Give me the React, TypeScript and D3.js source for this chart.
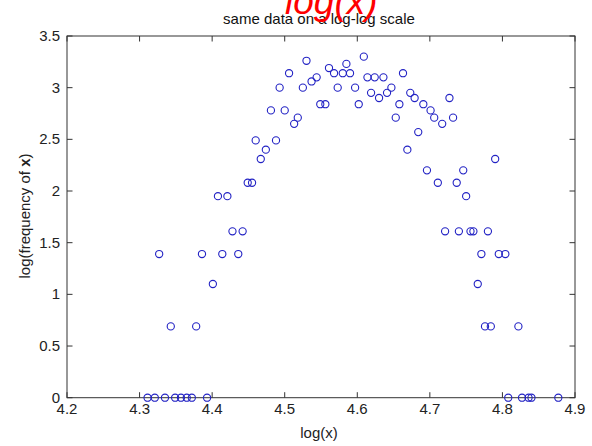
import React from "react";
import * as d3 from "d3";

const logX: number[] = [
  4.311, 4.321, 4.335, 4.349, 4.357, 4.365, 4.372, 4.393, 4.808, 4.827, 4.836, 4.840, 4.877,
  4.343, 4.378, 4.776, 4.784, 4.822,
  4.401, 4.766,
  4.327, 4.386, 4.414, 4.436, 4.771, 4.795, 4.804,
  4.428, 4.442, 4.721, 4.740, 4.756, 4.760, 4.780,
  4.408, 4.421, 4.750,
  4.449, 4.455, 4.711, 4.737,
  4.696, 4.746,
  4.467, 4.790,
  4.474, 4.669,
  4.460, 4.488,
  4.684,
  4.513, 4.717,
  4.518, 4.653, 4.706, 4.732,
  4.481, 4.500, 4.701,
  4.549, 4.556, 4.602, 4.658, 4.691,
  4.630, 4.679, 4.727,
  4.619, 4.641, 4.673,
  4.493, 4.525, 4.573, 4.597, 4.647,
  4.537,
  4.544, 4.614, 4.624, 4.636,
  4.506, 4.568, 4.580, 4.590, 4.663,
  4.561,
  4.585,
  4.530,
  4.609,
];

const logFreq: number[] = [
  0, 0, 0, 0, 0, 0, 0, 0, 0, 0, 0, 0, 0,
  0.69, 0.69, 0.69, 0.69, 0.69,
  1.10, 1.10,
  1.39, 1.39, 1.39, 1.39, 1.39, 1.39, 1.39,
  1.61, 1.61, 1.61, 1.61, 1.61, 1.61, 1.61,
  1.95, 1.95, 1.95,
  2.08, 2.08, 2.08, 2.08,
  2.20, 2.20,
  2.31, 2.31,
  2.40, 2.40,
  2.49, 2.49,
  2.57,
  2.65, 2.65,
  2.71, 2.71, 2.71, 2.71,
  2.78, 2.78, 2.78,
  2.84, 2.84, 2.84, 2.84, 2.84,
  2.90, 2.90, 2.90,
  2.95, 2.95, 2.95,
  3.00, 3.00, 3.00, 3.00, 3.00,
  3.06,
  3.10, 3.10, 3.10, 3.10,
  3.14, 3.14, 3.14, 3.14, 3.14,
  3.19,
  3.23,
  3.26,
  3.30,
];

const xTicks: number[] = [4.2, 4.3, 4.4, 4.5, 4.6, 4.7, 4.8, 4.9];
const yTicks: number[] = [0, 0.5, 1, 1.5, 2, 2.5, 3, 3.5];

const titleText = "same data on a log-log scale";
const annotationText = "log(x)";
const xLabel = "log(x)";
const yLabelStart = "log(frequency of ";
const yLabelBold = "x";
const yLabelEnd = ")";

export default function App() {
  const W = 592, H = 446;
  const left = 67, right = 575, top = 36, bottom = 397.7;
  const x = d3.scaleLinear().domain([4.2, 4.9]).range([left, right]);
  const y = d3.scaleLinear().domain([0, 3.5]).range([bottom, top]);
  const tickLen = 5.5;
  const axisColor = "#333";
  const font = "Arial, 'Liberation Sans', sans-serif";
  const fmt = d3.format("");

  return (
    <div style={{ position: "absolute", left: 0, top: 0 }}>
      <svg width={W} height={H} style={{ display: "block", background: "#fff" }}>
        <rect x={0} y={0} width={W} height={H} fill="#fff" />
        {xTicks.map((t, i) => (
          <g key={"xt" + i}>
            <line x1={x(t)} x2={x(t)} y1={bottom} y2={bottom - tickLen} stroke={axisColor} strokeWidth={1} />
            <line x1={x(t)} x2={x(t)} y1={top} y2={top + tickLen} stroke={axisColor} strokeWidth={1} />
            <text x={x(t)} y={414} textAnchor="middle" fontFamily={font} fontSize={15} fill="#222">
              {fmt(t)}
            </text>
          </g>
        ))}
        {yTicks.map((t, i) => (
          <g key={"yt" + i}>
            <line x1={left} x2={left + tickLen} y1={y(t)} y2={y(t)} stroke={axisColor} strokeWidth={1} />
            <line x1={right} x2={right - tickLen} y1={y(t)} y2={y(t)} stroke={axisColor} strokeWidth={1} />
            <text x={60} y={y(t) + 5} textAnchor="end" fontFamily={font} fontSize={15} fill="#222">
              {fmt(t)}
            </text>
          </g>
        ))}
        <rect x={left} y={top} width={right - left} height={bottom - top} fill="none" stroke={axisColor} strokeWidth={1} />
        {logX.map((v, i) => (
          <circle key={"p" + i} cx={x(v)} cy={y(logFreq[i])} r={3.6} fill="none" stroke="#2222c4" strokeWidth={1.1} />
        ))}
        <text x={319} y={438} textAnchor="middle" fontFamily={font} fontSize={15} fill="#222">
          {xLabel}
        </text>
        <text
          transform={`translate(30, 216) rotate(-90)`}
          textAnchor="middle"
          fontFamily={font}
          fontSize={15}
          fill="#222"
        >
          {yLabelStart}
          <tspan fontWeight="bold">{yLabelBold}</tspan>
          {yLabelEnd}
        </text>
        <text x={319} y={24} textAnchor="middle" fontFamily={font} fontSize={15} fill="#111">
          {titleText}
        </text>
        <text x={285} y={14} fontFamily={font} fontSize={37} fontStyle="italic" fill="#ff0000">
          {annotationText}
        </text>
      </svg>
    </div>
  );
}
